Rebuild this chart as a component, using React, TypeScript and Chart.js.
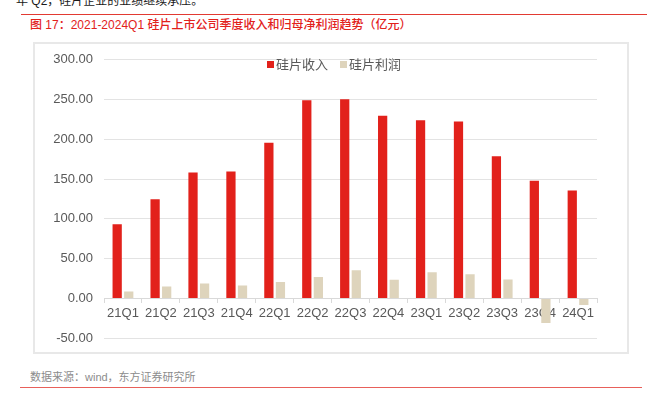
import React, { useEffect, useRef } from "react";
import { Chart, registerables } from "chart.js";

Chart.register(...registerables);

const categories = ["21Q1", "21Q2", "21Q3", "21Q4", "22Q1", "22Q2", "22Q3", "22Q4", "23Q1", "23Q2", "23Q3", "23Q4", "24Q1"];
const revenue = [93.3, 124.8, 158.4, 159.7, 195.8, 249.2, 250.4, 229.8, 224.0, 222.3, 178.6, 147.9, 135.7];
const profit = [8.8, 15.1, 18.9, 16.4, 20.6, 26.9, 35.3, 23.5, 32.8, 30.3, 23.9, -31.0, -8.4];
const seriesNames = ["硅片收入", "硅片利润"];
const yMin = -50;
const yMax = 300;
const yStep = 50;

const titleText = "图 17：2021-2024Q1 硅片上市公司季度收入和归母净利润趋势（亿元）";
const topText = "年 Q2，硅片企业的业绩继续承压。";
const sourceText = "数据来源：wind，东方证券研究所";

const RED = "#e2211b";
const BEIGE = "#ded4bc";
const FONT = '"Liberation Sans", Arial, "Noto Sans CJK SC", sans-serif';

export default function App() {
  const ref = useRef<HTMLCanvasElement | null>(null);

  useEffect(() => {
    if (!ref.current) return;
    const chart = new Chart(ref.current, {
      type: "bar",
      data: {
        labels: categories,
        datasets: [
          { label: seriesNames[0], data: revenue, backgroundColor: RED, barPercentage: 0.8, categoryPercentage: 0.61 },
          { label: seriesNames[1], data: profit, backgroundColor: BEIGE, barPercentage: 0.8, categoryPercentage: 0.61 },
        ],
      },
      options: {
        animation: false,
        responsive: false,
        maintainAspectRatio: false,
        layout: { padding: { left: 0, right: 30, top: 12, bottom: 9 } },
        plugins: { legend: { display: false }, tooltip: { enabled: false } },
        scales: {
          x: {
            position: { y: 0 } as any,
            grid: { drawOnChartArea: false, drawTicks: true, tickLength: 4, offset: true, color: "#d9d9d9" },
            border: { display: true, color: "#d9d9d9" },
            ticks: { color: "#595959", font: { family: FONT, size: 13 }, padding: 3, maxRotation: 0, autoSkip: false },
          },
          y: {
            min: yMin,
            max: yMax,
            afterFit: (scale: any) => {
              scale.width = 69;
            },
            grid: { color: "#e3e3e3", drawTicks: false },
            border: { display: false },
            ticks: {
              stepSize: yStep,
              padding: 11,
              color: "#595959",
              font: { family: FONT, size: 13 },
              callback: (v: any) => Number(v).toFixed(2),
            },
          },
        },
      },
    });
    return () => chart.destroy();
  }, []);

  const abs = (s: React.CSSProperties): React.CSSProperties => ({ position: "absolute", ...s });

  return (
    <div style={{ position: "fixed", left: 0, top: 0, width: 647, height: 394, background: "#fff", overflow: "hidden", fontFamily: FONT }}>
      <div style={abs({ left: 16, top: -7, fontSize: 12, color: "#1a1a1a", whiteSpace: "nowrap", lineHeight: "16px" })}>{topText}</div>
      <div style={abs({ left: 21, top: 14, width: 626, height: 1, background: "#e23a32" })} />
      <div style={abs({ left: 30, top: 17, fontSize: 12, color: RED, whiteSpace: "nowrap", lineHeight: "16px", fontWeight: 500 })}>{titleText}</div>
      <div style={abs({ left: 33, top: 42, width: 596, height: 312, border: "2px solid #e8e8e8", boxSizing: "border-box" })} />
      <canvas ref={ref} width={592} height={316} style={abs({ left: 35, top: 41, width: 592, height: 316 })} />
      <div style={abs({ left: 267, top: 61, width: 7, height: 7, background: RED })} />
      <div style={abs({ left: 276, top: 56, fontSize: 13, color: "#595959", whiteSpace: "nowrap", lineHeight: "17px" })}>{seriesNames[0]}</div>
      <div style={abs({ left: 340, top: 61, width: 7, height: 7, background: BEIGE })} />
      <div style={abs({ left: 349, top: 56, fontSize: 13, color: "#595959", whiteSpace: "nowrap", lineHeight: "17px" })}>{seriesNames[1]}</div>
      <div style={abs({ left: 30, top: 370, fontSize: 11, color: "#8c8c8c", whiteSpace: "nowrap", lineHeight: "15px" })}>{sourceText}</div>
      <div style={abs({ left: 20, top: 387, width: 622, height: 1, background: "#e8605a" })} />
    </div>
  );
}
